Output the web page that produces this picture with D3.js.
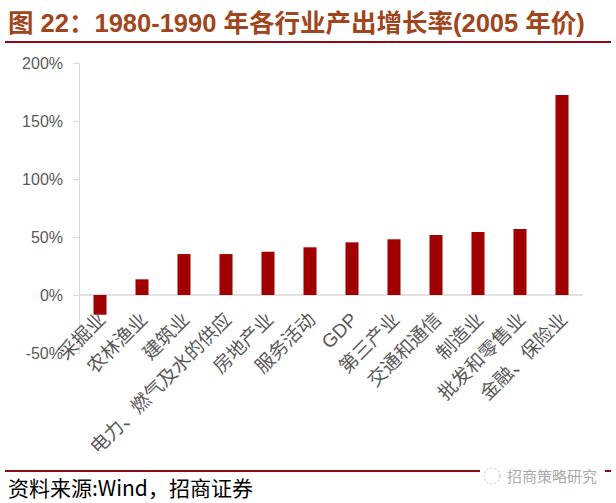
<!DOCTYPE html>
<html lang="zh">
<head>
<meta charset="UTF-8">
<title>1980-1990 年各行业产出增长率</title>
<script src="https://d3js.org/d3.v7.min.js"></script>
<style>
  body { margin: 0; background: #fff; }
  svg { display: block; }
  .axis path, .axis line { stroke: #d9d9d9; }
  .axis text { fill: #595959; font-family: "Liberation Sans", "Noto Sans", sans-serif; font-size: 16px; }
  .cat { fill: #595959; font-family: "Noto Sans CJK SC", sans-serif; font-size: 19px; }
</style>
</head>
<body>
<svg id="chart" width="616" height="503"></svg>
<script>
  // data (growth in %)
  const categories = ["采掘业", "农林渔业", "建筑业", "电力、燃气及水的供应", "房地产业", "服务活动",
                      "GDP", "第三产业", "交通和通信", "制造业", "批发和零售业", "金融、保险业"];
  const growth = [-17, 13.5, 35.3, 35.3, 37.3, 41.1, 45.4, 48, 51.7, 54.3, 56.9, 172.4];
  const yTicks = [-50, 0, 50, 100, 150, 200];

  const titleText = "图 22：1980-1990 年各行业产出增长率(2005 年价)";
  const sourceText = "资料来源:Wind，招商证券";

  const svg = d3.select("#chart");

  // plot area
  const plotLeft = 79, plotRight = 583, plotTop = 63, plotBottom = 353;

  const x = d3.scaleBand()
    .domain(categories)
    .range([plotLeft, plotRight])
    .paddingInner(0.69)
    .paddingOuter(0.345);

  const y = d3.scaleLinear()
    .domain([-50, 200])
    .range([plotBottom, plotTop]);

  // title + rule
  svg.append("text")
    .attr("x", 8)
    .attr("y", 32)
    .attr("fill", "#a0461e")
    .attr("font-family", "'Liberation Sans', 'Noto Sans CJK SC', sans-serif")
    .attr("font-weight", "bold")
    .attr("font-size", 25.5)
    .text(titleText);

  svg.append("line")
    .attr("x1", 5).attr("x2", 611)
    .attr("y1", 42).attr("y2", 42)
    .attr("stroke", "#8b0a1a")
    .attr("stroke-width", 2);

  // y axis
  svg.append("g")
    .attr("class", "axis")
    .attr("transform", `translate(${plotLeft},0)`)
    .call(d3.axisLeft(y).tickValues(yTicks).tickSize(6).tickPadding(10).tickFormat(d => d + "%"));

  // zero line
  svg.append("line")
    .attr("x1", plotLeft).attr("x2", plotRight)
    .attr("y1", y(0)).attr("y2", y(0))
    .attr("stroke", "#d9d9d9")
    .attr("stroke-width", 1.5);

  // bars
  svg.append("g")
    .selectAll("rect")
    .data(categories)
    .join("rect")
    .attr("x", d => x(d))
    .attr("width", x.bandwidth())
    .attr("y", (d, i) => y(Math.max(0, growth[i])))
    .attr("height", (d, i) => Math.abs(y(growth[i]) - y(0)))
    .attr("fill", "#a00000");

  // rotated category labels
  svg.append("g")
    .selectAll("text")
    .data(categories)
    .join("text")
    .attr("class", "cat")
    .attr("text-anchor", "end")
    .attr("dy", "0.35em")
    .attr("transform", d => `translate(${x(d) + x.bandwidth() / 2 + 2},316) rotate(-45)`)
    .style("font-family", d => d === "GDP" ? "'Liberation Sans', sans-serif" : null)
    .text(d => d);

  // footer
  svg.append("line")
    .attr("x1", 5).attr("x2", 611)
    .attr("y1", 471).attr("y2", 471)
    .attr("stroke", "#8b0a1a")
    .attr("stroke-width", 2);

  svg.append("text")
    .attr("x", 8)
    .attr("y", 496)
    .attr("fill", "#000")
    .attr("font-family", "'Noto Sans CJK SC', sans-serif")
    .attr("font-size", 21)
    .text(sourceText);

  // watermark
  svg.append("rect")
    .attr("x", 480).attr("y", 464).attr("width", 125).attr("height", 22)
    .attr("fill", "#fff");
  svg.append("circle")
    .attr("cx", 492).attr("cy", 476).attr("r", 8)
    .attr("fill", "none")
    .attr("stroke", "#bbb")
    .attr("stroke-dasharray", "2,2");
  svg.append("text")
    .attr("x", 507)
    .attr("y", 482)
    .attr("fill", "#aaa")
    .attr("font-family", "'Noto Sans CJK SC', sans-serif")
    .attr("font-size", 15)
    .text("招商策略研究");
</script>
</body>
</html>
